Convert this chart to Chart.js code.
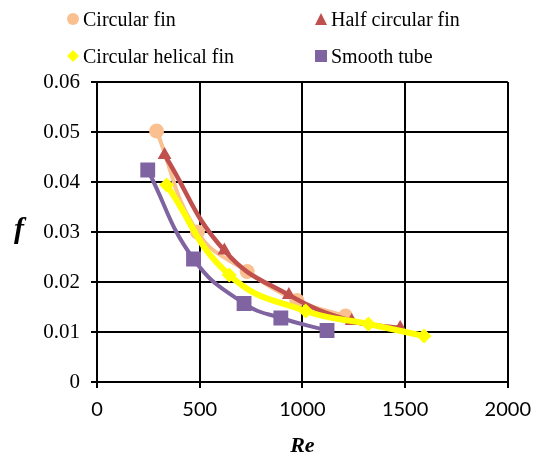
<!DOCTYPE html>
<html lang="en">
<head>
<meta charset="UTF-8">
<title>f vs Re</title>
<script src="https://cdn.jsdelivr.net/npm/chart.js"></script>
<style>
    body { margin: 0; background: #fff; }
    .wrap { position: relative; width: 541px; height: 464px; }
    .legend-item {
        position: absolute;
        font-family: "Times New Roman", "Liberation Serif", serif;
        font-size: 20px;
        color: #000;
        line-height: 20px;
        white-space: nowrap;
    }
    .mark {
        position: absolute;
        width: 12px;
        height: 12px;
    }
    .ylabel {
        position: absolute;
        left: 14px;
        top: 211px;
        font-family: "Times New Roman", "Liberation Serif", serif;
        font-weight: bold;
        font-style: italic;
        font-size: 30px;
        color: #000;
    }
</style>
</head>
<body>
<div class="wrap">
    <canvas id="chart" width="541" height="464"></canvas>
    <div id="legend"></div>
    <div class="ylabel">f</div>
</div>
<script>
    // values
    const circularRe = [290, 489, 731, 973, 1210];
    const circularF = [0.0502, 0.0300, 0.0221, 0.0163, 0.0132];

    const halfRe = [329, 620, 934, 1240, 1476];
    const halfF = [0.0454, 0.0263, 0.0174, 0.0122, 0.0108];

    const helicalRe = [339, 644, 1016, 1321, 1592];
    const helicalF = [0.0394, 0.0214, 0.0142, 0.0116, 0.0092];

    const smoothRe = [247, 470, 716, 895, 1120];
    const smoothF = [0.0424, 0.0246, 0.0157, 0.0128, 0.0103];

    const seriesNames = ["Circular fin", "Half circular fin", "Circular helical fin", "Smooth tube"];
    const xTicks = [0, 500, 1000, 1500, 2000];
    const yTicks = [0, 0.01, 0.02, 0.03, 0.04, 0.05, 0.06];

    function pts(xs, ys) {
        return xs.map((x, i) => ({ x: x, y: ys[i] }));
    }

    const colors = ["#FAC090", "#C0504D", "#FFFF00", "#8064A2"];
    const serif = "'Times New Roman', 'Liberation Serif', serif";

    const datasets = [
        { label: seriesNames[0], data: pts(circularRe, circularF), pointStyle: "circle", pointRadius: 7.5, borderWidth: 4, order: 3 },
        { label: seriesNames[1], data: pts(halfRe, halfF), pointStyle: "triangle", pointRadius: 8, borderWidth: 4.5, order: 2 },
        { label: seriesNames[2], data: pts(helicalRe, helicalF), pointStyle: "rectRot", pointRadius: 7.5, borderWidth: 6, order: 1 },
        { label: seriesNames[3], data: pts(smoothRe, smoothF), pointStyle: "rect", pointRadius: 10.5, borderWidth: 4, order: 0 }
    ].map((d, i) => Object.assign(d, {
        borderColor: colors[i],
        backgroundColor: colors[i],
        pointBackgroundColor: colors[i],
        pointBorderColor: colors[i],
        pointBorderWidth: 0,
        showLine: true,
        tension: 0.45,
        fill: false
    }));

    new Chart(document.getElementById("chart"), {
        type: "scatter",
        data: { datasets: datasets },
        options: {
            responsive: false,
            animation: false,
            layout: { padding: { top: 82, right: 31, left: 0, bottom: 0 } },
            plugins: {
                legend: { display: false },
                tooltip: { enabled: false }
            },
            scales: {
                x: {
                    type: "linear",
                    min: 0,
                    max: 2000,
                    afterBuildTicks: s => { s.ticks = xTicks.map(v => ({ value: v })); },
                    afterFit: s => { s.height = 82; },
                    grid: { color: "#000", lineWidth: 2, tickLength: 6, drawTicks: true },
                    border: { color: "#000", width: 2 },
                    ticks: {
                        color: "#000",
                        padding: 10,
                        maxRotation: 0,
                        callback: v => String(v),
                        font: { family: "Lato, 'Liberation Sans', sans-serif", size: 20 }
                    },
                    title: {
                        display: true,
                        text: "Re",
                        color: "#000",
                        padding: { top: 0, bottom: 4 },
                        font: { family: serif, size: 22, weight: "bold", style: "italic" }
                    }
                },
                y: {
                    type: "linear",
                    min: 0,
                    max: 0.06,
                    afterBuildTicks: s => { s.ticks = yTicks.map(v => ({ value: v })); },
                    afterFit: s => { s.width = 97; },
                    grid: { color: "#000", lineWidth: 2, tickLength: 6, drawTicks: true },
                    border: { color: "#000", width: 2 },
                    ticks: {
                        color: "#000",
                        padding: 11,
                        callback: v => v === 0 ? "0" : v.toFixed(2),
                        font: { family: serif, size: 21 }
                    }
                }
            }
        }
    });

    // legend as html, two columns
    const legendPos = [[73, 19], [321, 19], [73, 56], [321, 56]];
    const clips = [
        "circle(50% at 50% 50%)",
        "polygon(50% 0%, 100% 100%, 0% 100%)",
        "polygon(50% 0%, 100% 50%, 50% 100%, 0% 50%)",
        "polygon(0% 0%, 100% 0%, 100% 100%, 0% 100%)"
    ];
    const legend = document.getElementById("legend");
    seriesNames.forEach((name, i) => {
        const [cx, cy] = legendPos[i];
        const m = document.createElement("div");
        m.className = "mark";
        m.style.left = (cx - 6) + "px";
        m.style.top = (cy - 6) + "px";
        m.style.background = colors[i];
        m.style.clipPath = clips[i];
        legend.appendChild(m);
        const t = document.createElement("div");
        t.className = "legend-item";
        t.style.left = (cx + 10) + "px";
        t.style.top = (cy - 10) + "px";
        t.textContent = name;
        legend.appendChild(t);
    });
</script>
</body>
</html>
